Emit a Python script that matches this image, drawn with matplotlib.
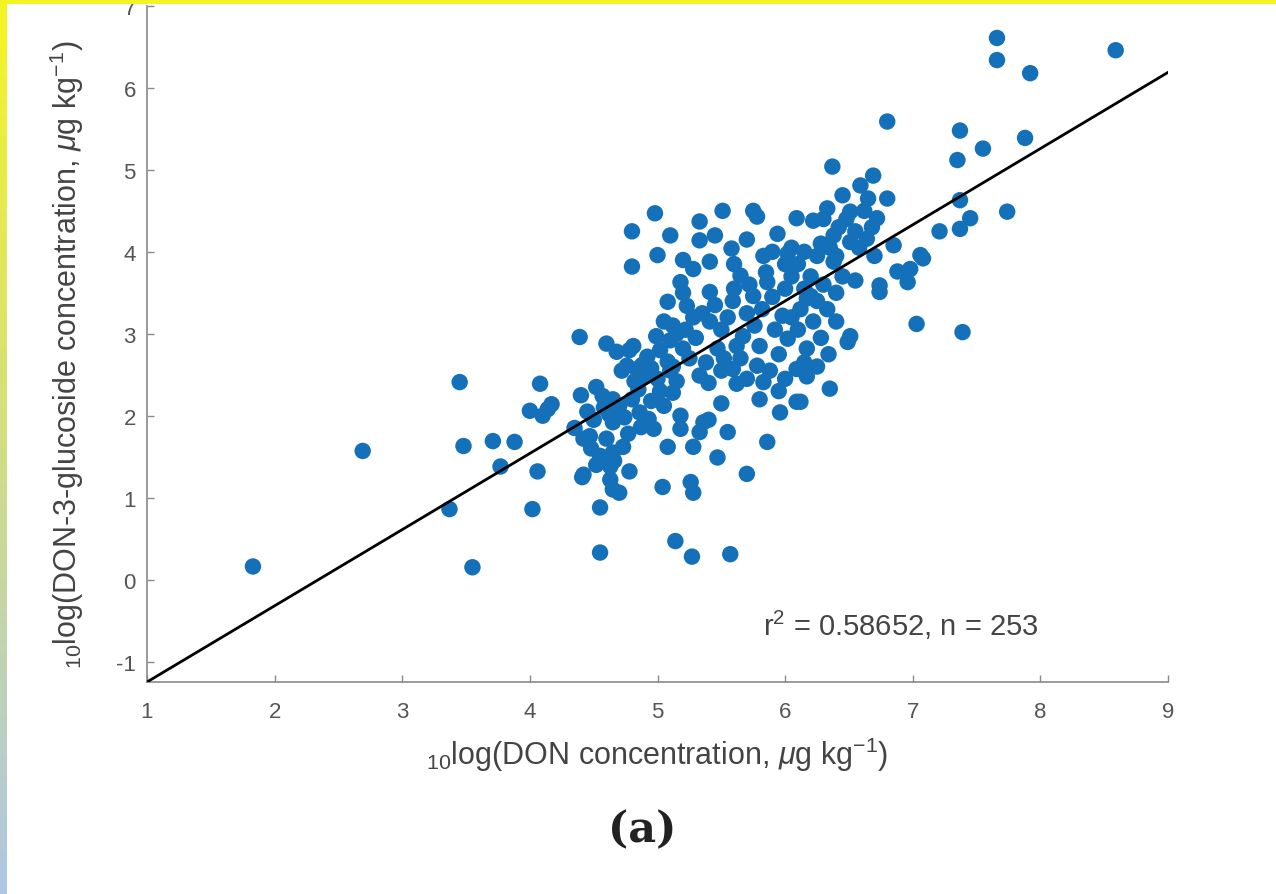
import matplotlib
matplotlib.use("Agg")
import matplotlib.pyplot as plt
import numpy as np
from matplotlib.patches import Rectangle

# ---------------- data ----------------
don_log = [
    1.83, 2.69, 3.37, 3.45, 3.48, 3.55, 3.71, 3.77, 3.88, 4.00, 4.02, 4.08, 4.06, 4.14, 4.17, 4.10,
    4.39, 4.60, 4.57, 4.47, 4.42, 4.65, 4.70, 4.76, 4.78, 4.42, 4.55, 4.65, 4.41, 4.63, 4.65, 4.55,
    4.55, 4.35, 4.48, 4.52,
    4.98, 4.80, 4.80, 5.00, 5.33, 5.51, 5.75, 5.78, 5.33, 5.58, 5.83, 5.94, 6.09, 6.02, 6.22, 5.41,
    5.28, 5.18, 5.65, 5.86, 5.08, 5.23, 5.41, 5.59, 5.75, 5.98, 6.17, 4.81, 4.99, 5.12, 5.20, 5.41,
    5.47, 5.67, 5.80, 6.02, 6.17, 4.84, 5.08, 5.33, 5.59, 5.78, 6.09, 6.22,
    4.86, 4.97, 5.18, 5.18, 5.36, 5.33, 4.73, 5.08, 5.28, 5.47, 5.70, 5.86, 5.96, 6.09, 5.62, 5.83,
    5.04, 5.26, 5.28, 4.63, 4.65, 5.14, 5.27, 5.57,
    7.66, 7.66, 7.92, 8.59, 6.80, 7.37, 7.55, 7.35, 7.88, 6.37, 6.69, 6.59, 6.80, 6.45, 6.33, 6.51,
    6.72, 7.74, 7.37, 7.45, 7.21, 7.37, 6.85, 7.06, 6.38, 6.64,
    7.08, 6.98, 6.88, 6.96, 6.74, 6.74, 6.51, 6.38, 6.20, 6.33, 6.51, 6.49, 6.34, 6.17, 6.35, 7.03,
    7.39, 6.12,
    4.45, 4.50, 4.58, 4.62, 4.70, 4.74, 4.80, 4.85, 4.90, 4.95, 4.82, 4.72, 4.68, 4.92, 5.02, 5.05,
    4.93, 4.87, 4.77, 4.60, 4.66, 4.78, 4.95, 5.00, 4.88, 5.10, 5.12, 5.15, 4.40, 4.52,
    5.02, 5.10, 5.15, 5.22, 5.25, 5.30, 5.35, 5.38, 5.45, 5.50, 5.52, 5.55, 5.60, 5.62, 5.70, 5.72,
    5.76, 5.82, 5.85, 5.90, 5.92, 5.95, 5.40, 5.50, 5.20, 5.28, 5.05, 5.12, 5.65, 5.88,
    6.00, 6.05, 6.10, 6.15, 6.20, 6.25, 6.28, 6.30, 6.35, 6.40, 6.42, 6.48, 6.55, 6.58, 6.62, 6.68,
    6.70, 6.45, 6.12, 6.25, 6.05, 6.40, 6.55, 6.30, 6.00, 6.65, 6.15,
    6.05, 6.10, 6.25, 6.40, 6.00, 5.95, 6.15, 5.80, 5.70, 5.50, 5.40, 5.55, 6.28, 5.90, 5.70, 5.45,
    5.60, 5.10, 5.20,
]
d3g_log = [
    0.16, 1.57, 0.86, 2.41, 1.63, 0.15, 1.69, 1.38, 1.68, 2.06, 0.86, 2.39, 1.32, 2.08, 2.14, 2.00,
    2.96, 2.88, 2.24, 1.75, 1.28, 1.55, 1.06, 2.61, 2.80, 1.72, 1.51, 1.92, 1.25, 1.22, 2.20, 0.88,
    0.33, 1.85, 1.60, 1.40,
    4.47, 4.25, 3.82, 3.96, 4.37, 4.50, 4.50, 4.43, 4.14, 4.04, 3.95, 4.22, 4.41, 3.98, 4.38, 3.88,
    3.79, 3.63, 3.71, 3.63, 3.39, 3.34, 3.51, 3.40, 3.46, 3.22, 3.43, 2.85, 2.97, 3.10, 2.82, 3.15,
    2.82, 2.97, 2.85, 2.94, 2.82, 2.57, 2.66, 2.49, 2.57, 2.61, 2.57, 3.15,
    2.04, 1.84, 2.00, 1.84, 1.92, 1.80, 1.62, 1.62, 1.62, 1.49, 1.29, 1.68, 2.04, 2.17, 2.39, 2.41,
    1.13, 1.19, 1.06, 1.38, 1.10, 0.47, 0.28, 0.31,
    6.61, 6.34, 6.18, 6.46, 5.59, 5.48, 5.26, 5.12, 5.39, 5.04, 4.93, 4.81, 4.65, 4.69, 4.53, 4.49,
    4.41, 4.49, 4.63, 4.41, 4.25, 4.28, 4.08, 3.96, 4.20, 4.16,
    3.92, 3.79, 3.76, 3.63, 3.59, 3.51, 4.12, 3.88, 3.46, 3.30, 2.97, 2.90, 2.75, 2.48, 2.33, 3.12,
    3.02, 2.17,
    2.05, 1.95, 2.10, 2.02, 2.12, 1.98, 2.20, 2.32, 2.48, 2.58, 2.42, 2.55, 2.78, 2.72, 2.30, 2.12,
    1.96, 1.86, 1.78, 1.72, 1.45, 1.32, 2.18, 2.45, 2.62, 2.55, 2.28, 2.42, 2.25, 2.35,
    2.80, 2.92, 3.00, 3.05, 2.70, 2.95, 3.25, 2.65, 3.35, 3.05, 2.70, 3.20, 3.55, 2.85, 3.25, 3.60,
    3.10, 3.30, 3.75, 3.45, 3.05, 2.75, 2.40, 2.55, 3.50, 3.20, 3.15, 2.60, 2.70, 2.55,
    3.55, 3.70, 3.85, 4.00, 3.70, 3.95, 4.10, 3.60, 4.05, 3.95, 4.30, 4.40, 4.25, 4.05, 4.50, 4.30,
    3.95, 3.70, 3.30, 3.40, 4.05, 3.50, 3.65, 4.40, 3.85, 4.65, 3.55,
    3.20, 3.05, 2.60, 3.15, 2.45, 2.30, 2.65, 2.20, 2.45, 2.15, 1.95, 1.80, 2.95, 4.00, 4.15, 4.20,
    3.85, 4.20, 3.90,
]
fit_intercept = -2.18
fit_slope = 0.93
x_ticks = [1, 2, 3, 4, 5, 6, 7, 8, 9]
y_ticks = [-1, 0, 1, 2, 3, 4, 5, 6, 7]
stats_text = r"r$^2$ = 0.58652, n = 253"
xlabel_text = r"$_{10}$log(DON concentration, $\mu$g kg$^{-1}$)"
ylabel_text = r"$_{10}$log(DON-3-glucoside concentration, $\mu$g kg$^{-1}$)"
panel_label = "(a)"

# ---------------- figure ----------------
W, H = 1276, 895
plt.rcParams["font.family"] = ["Liberation Sans", "DejaVu Sans"]
plt.rcParams["mathtext.fontset"] = "custom"
plt.rcParams["mathtext.rm"] = "Liberation Sans"
plt.rcParams["mathtext.it"] = "Liberation Sans:italic"
plt.rcParams["axes.unicode_minus"] = False

fig = plt.figure(figsize=(W / 100, H / 100), dpi=100)
fig.patch.set_facecolor("white")

ax = fig.add_axes([147 / W, 1 - 683 / H, (1168 - 147) / W, (683 - 7) / H])
ax.set_xlim(1, 9)
ax.set_ylim(-1.25, 7)

ax.scatter(don_log, d3g_log, s=140, color="#1470b8", edgecolors="none", zorder=2)

xs = np.array([1.0, 9.0])
ax.plot(xs, fit_intercept + fit_slope * xs, color="black", lw=2.0, zorder=3)

ax.set_xticks(x_ticks)
ax.set_yticks(y_ticks)
for s in ["top", "right"]:
    ax.spines[s].set_visible(False)
for s in ["left", "bottom"]:
    ax.spines[s].set_color("#8a8a8a")
    ax.spines[s].set_linewidth(1.2)
ax.tick_params(direction="in", length=5, width=1, color="#8a8a8a",
               labelcolor="#555555", labelsize=16)
ax.tick_params(axis="x", pad=14)
ax.tick_params(axis="y", pad=8)

ax.set_xlabel(xlabel_text, fontsize=22, color="#444444")
ax.xaxis.set_label_coords(0.5, -0.078)
ax.set_ylabel(ylabel_text, fontsize=22, color="#444444")
ax.yaxis.set_label_coords(-0.06, 0.485)

ax.text(5.83, -0.55, stats_text, fontsize=21, color="#444444", va="center", ha="left")

fig.text(642 / W, 1 - 830 / H, panel_label, fontsize=31, fontweight="bold",
         family=["DejaVu Serif"], ha="center", va="center", color="#222222")

# frame decorations: yellow top bar, gradient left bar
fig.add_artist(Rectangle((0, 1 - 5 / H), 1, 5 / H, transform=fig.transFigure,
                         facecolor="#f4f423", edgecolor="none", zorder=10))
gax = fig.add_axes([0, 0, 7 / W, 1 - 5 / H], zorder=11)
top_c = np.array([0.96, 0.96, 0.14])
bot_c = np.array([0.68, 0.78, 0.90])
tvals = np.linspace(0, 1, 256)[:, None]
grad = (top_c[None, :] * (1 - tvals) + bot_c[None, :] * tvals)[:, None, :]
gax.imshow(grad, aspect="auto", extent=[0, 1, 0, 1])
gax.axis("off")

fig.savefig("out.png", dpi=100)
